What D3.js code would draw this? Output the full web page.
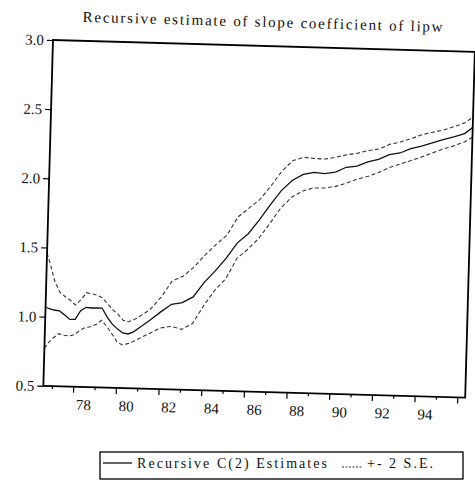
<!DOCTYPE html>
<html><head><meta charset="utf-8">
<script src="https://cdn.jsdelivr.net/npm/d3@7"></script>
<style>body{margin:0;background:#fff}svg{display:block}</style>
</head><body><svg id="c" width="475" height="496"></svg>
<script>
const dates = [1976.6,1976.75,1977.0,1977.25,1977.5,1977.75,1978.0,1978.25,1978.5,1978.75,1979.0,1979.25,1979.5,1979.75,1980.0,1980.25,1980.5,1980.75,1981.0,1981.5,1982.0,1982.5,1983.0,1983.5,1984.0,1984.5,1985.0,1985.5,1986.0,1986.5,1987.0,1987.5,1988.0,1988.5,1989.0,1989.5,1990.0,1990.5,1991.0,1991.5,1992.0,1992.5,1993.0,1993.5,1994.0,1994.5,1995.0,1995.5,1996.0,1996.35];
const estimate = [1.07,1.06,1.05,1.045,1.017,0.985,0.987,1.05,1.076,1.072,1.073,1.074,1.01,0.96,0.925,0.898,0.892,0.908,0.937,0.995,1.058,1.115,1.13,1.173,1.28,1.365,1.46,1.572,1.64,1.742,1.855,1.96,2.035,2.08,2.096,2.09,2.103,2.14,2.15,2.183,2.204,2.24,2.254,2.287,2.308,2.334,2.36,2.382,2.407,2.45];
const upperBand = [1.46,1.39,1.26,1.18,1.15,1.124,1.09,1.13,1.182,1.175,1.166,1.148,1.105,1.065,1.033,0.99,0.98,0.995,1.018,1.073,1.165,1.284,1.32,1.388,1.477,1.555,1.625,1.76,1.825,1.89,1.99,2.10,2.178,2.203,2.197,2.195,2.21,2.23,2.243,2.265,2.278,2.314,2.333,2.36,2.39,2.41,2.428,2.455,2.485,2.525];
const lowerBand = [0.77,0.808,0.848,0.88,0.87,0.865,0.877,0.91,0.93,0.937,0.955,0.986,0.94,0.888,0.831,0.812,0.822,0.838,0.86,0.9,0.941,0.956,0.936,0.98,1.11,1.225,1.31,1.46,1.528,1.61,1.72,1.835,1.915,1.96,1.984,1.986,1.998,2.024,2.055,2.077,2.107,2.146,2.173,2.2,2.229,2.26,2.29,2.316,2.347,2.38];
const yTickValues = [0.5,1.0,1.5,2.0,2.5,3.0];
const yTickLabels = ["0.5","1.0","1.5","2.0","2.5","3.0"];
const xMinorYears = [1977,1979,1981,1983,1985,1987,1989,1991,1993,1995];
const xMajorYears = [1978,1980,1982,1984,1986,1988,1990,1992,1994,1996];
const xLabelYears = [1978,1980,1982,1984,1986,1988,1990,1992,1994];
const xLabels = ["78","80","82","84","86","88","90","92","94"];
const titleText = "Recursive estimate of slope coefficient of lipw";
const legendMain = "Recursive C(2) Estimates";
const legendBand = "+- 2 S.E.";

const FONT = "Liberation Serif, Times New Roman, serif";
const L = 53, R = 475, T = 40, B = 386;
const svg = d3.select("#c");
const x = d3.scaleLinear().domain([1976.6, 1996.37]).range([L, R]);
const y = d3.scaleLinear().domain([0.5, 3.0]).range([B, T]);

const g = svg.append("g").attr("transform", `rotate(1.6, ${L}, ${T})`);

// title
g.append("text").attr("x", 82).attr("y", 21).attr("textLength", 360)
  .attr("lengthAdjust", "spacing")
  .attr("font-family", FONT).attr("font-size", 15).attr("fill", "#111").text(titleText);

// series
const line = d3.line().x((d, i) => x(dates[i])).y(d => y(d));
g.append("path").attr("d", line(upperBand)).attr("fill", "none")
  .attr("stroke", "#333").attr("stroke-width", 1.1).attr("stroke-dasharray", "4,2.5");
g.append("path").attr("d", line(lowerBand)).attr("fill", "none")
  .attr("stroke", "#333").attr("stroke-width", 1.1).attr("stroke-dasharray", "4,2.5");
g.append("path").attr("d", line(estimate)).attr("fill", "none")
  .attr("stroke", "#111").attr("stroke-width", 1.3);

// frame
g.append("rect").attr("x", L).attr("y", T).attr("width", R - L).attr("height", B - T)
  .attr("fill", "none").attr("stroke", "#000").attr("stroke-width", 1.8);

// y axis
const yAxis = d3.axisLeft(y).tickValues(yTickValues).tickSize(6).tickPadding(3)
  .tickFormat((d, i) => yTickLabels[i]);
const ya = g.append("g").attr("transform", `translate(${L},0)`).call(yAxis);
ya.select(".domain").remove();
ya.selectAll("line").attr("stroke", "#000").attr("stroke-width", 1.2);
ya.selectAll("text").attr("font-family", FONT).attr("font-size", 15).attr("fill", "#111");

// x axis ticks
const xMajor = d3.axisBottom(x).tickValues(xMajorYears).tickSize(6).tickFormat("");
const xa = g.append("g").attr("transform", `translate(0,${B})`).call(xMajor);
xa.select(".domain").remove();
xa.selectAll("line").attr("stroke", "#000").attr("stroke-width", 1.2);
const xMinor = d3.axisBottom(x).tickValues(xMinorYears).tickSize(3).tickFormat("");
const xb = g.append("g").attr("transform", `translate(0,${B})`).call(xMinor);
xb.select(".domain").remove();
xb.selectAll("line").attr("stroke", "#000").attr("stroke-width", 1.2);
// x labels centred on the year
g.selectAll(".xl").data(xLabelYears).enter().append("text")
  .attr("x", d => x(d + 0.5)).attr("y", B + 23).attr("text-anchor", "middle")
  .attr("font-family", FONT).attr("font-size", 15).attr("fill", "#111")
  .text((d, i) => xLabels[i]);

// legend (not rotated)
const lg = svg.append("g");
lg.append("rect").attr("x", 100).attr("y", 452).attr("width", 363).attr("height", 27)
  .attr("fill", "none").attr("stroke", "#000").attr("stroke-width", 1.3);
lg.append("line").attr("x1", 103).attr("x2", 132).attr("y1", 463).attr("y2", 463)
  .attr("stroke", "#111").attr("stroke-width", 1.3);
lg.append("text").attr("x", 137).attr("y", 468).attr("textLength", 190)
  .attr("lengthAdjust", "spacing")
  .attr("font-family", FONT).attr("font-size", 14).attr("fill", "#111").text(legendMain);
lg.append("line").attr("x1", 342).attr("x2", 362).attr("y1", 467).attr("y2", 467)
  .attr("stroke", "#333").attr("stroke-width", 1.1).attr("stroke-dasharray", "2,1.5");
lg.append("text").attr("x", 367).attr("y", 468).attr("textLength", 66)
  .attr("lengthAdjust", "spacing")
  .attr("font-family", FONT).attr("font-size", 14).attr("fill", "#111").text(legendBand);
</script></body></html>
